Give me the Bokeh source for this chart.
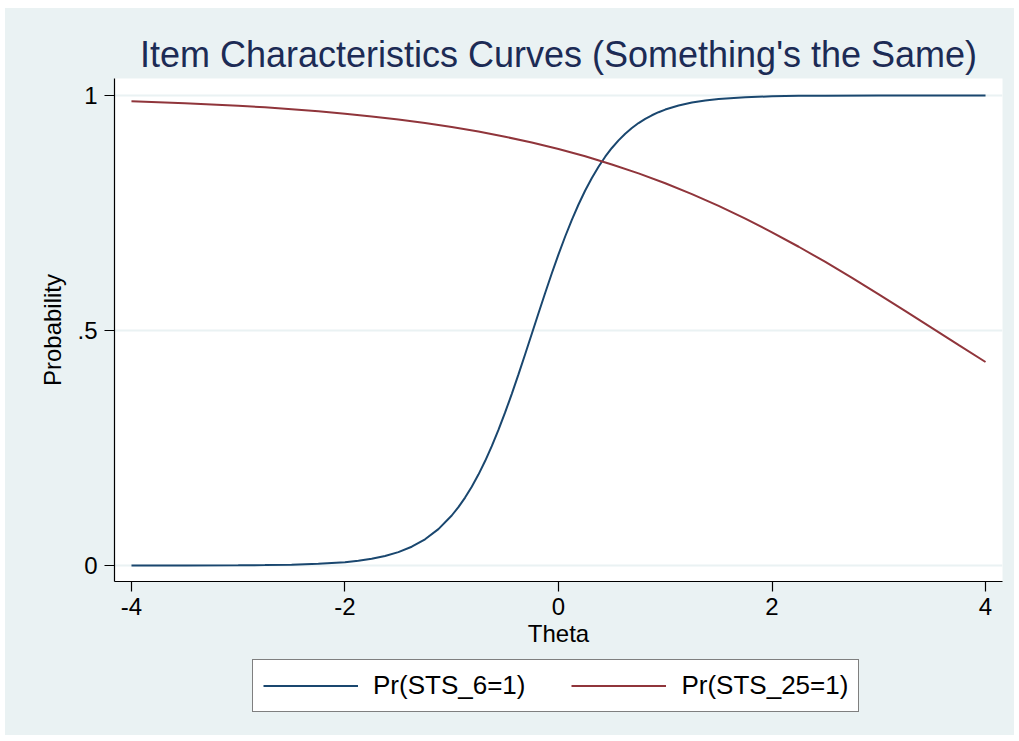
from bokeh.plotting import figure
from bokeh.models import Legend, LegendItem, Range1d, FixedTicker
from bokeh.layouts import column
from bokeh.embed import file_html
from bokeh.resources import INLINE

# ---- data ----
theta_blue = [-4.0, -3.5, -3.0, -2.75, -2.5, -2.25, -2.0, -1.875, -1.75, -1.625,
              -1.5, -1.375, -1.25, -1.125, -1.0, -0.9375, -0.875, -0.8125, -0.75,
              -0.6875, -0.625, -0.5625, -0.5, -0.4375, -0.375, -0.3125, -0.25,
              -0.1875, -0.125, -0.0625, 0.0, 0.0625, 0.125, 0.1875, 0.25, 0.3125,
              0.375, 0.4375, 0.5, 0.5625, 0.625, 0.6875, 0.75, 0.8125, 0.875,
              0.9375, 1.0, 1.125, 1.25, 1.375, 1.5, 1.75, 2.0, 2.25, 2.5, 3.0, 4.0]
p_blue = [0.00003, 0.0001, 0.00044, 0.00089, 0.00178, 0.00358, 0.00719, 0.01017, 0.01437, 0.02028,
          0.02853, 0.0400, 0.0558, 0.0774, 0.1064, 0.1242, 0.1445, 0.1676, 0.1934,
          0.2222, 0.2539, 0.2884, 0.3256, 0.3652, 0.4066, 0.4494, 0.493,
          0.5367, 0.5798, 0.6218, 0.662, 0.6999, 0.7354, 0.768, 0.7977, 0.8245,
          0.8484, 0.8696, 0.8882, 0.9044, 0.9185, 0.9307, 0.9412, 0.9501, 0.9578,
          0.9643, 0.9699, 0.9786, 0.9848, 0.9892, 0.9924, 0.9962, 0.9981, 0.9991, 0.9995, 0.9999, 1.0]

theta_red = [-4.0, -3.75, -3.5, -3.25, -3.0, -2.75, -2.5, -2.25, -2.0, -1.75, -1.5,
             -1.25, -1.0, -0.75, -0.5, -0.25, 0.0, 0.25, 0.5, 0.75, 1.0, 1.25, 1.5,
             1.75, 2.0, 2.25, 2.5, 2.75, 3.0, 3.25, 3.5, 3.75, 4.0]
p_red = [0.9875, 0.9856, 0.9834, 0.9808, 0.9779, 0.9746, 0.9707, 0.9663, 0.9612, 0.9554, 0.9488,
         0.9413, 0.9328, 0.9231, 0.9121, 0.8998, 0.8860, 0.8705, 0.8532, 0.8341, 0.8131, 0.7900, 0.7650,
         0.7379, 0.7089, 0.6781, 0.6457, 0.6118, 0.5769, 0.5412, 0.5050, 0.4688, 0.4329]

x_ticks = [-4, -2, 0, 2, 4]
x_tick_labels = ["-4", "-2", "0", "2", "4"]
y_ticks = [0, 0.5, 1]
y_tick_labels = ["0", ".5", "1"]
title_text = "Item Characteristics Curves (Something's the Same)"
x_label = "Theta"
y_label = "Probability"
series_labels = ["Pr(STS_6=1)", "Pr(STS_25=1)"]
series_colors = ["#1A476F", "#90353B"]

FONT = "Liberation Sans"
BG = "#EAF2F3"

p = figure(frame_width=888, frame_height=503,
           x_range=Range1d(-4.159, 4.159), y_range=Range1d(-0.034, 1.036),
           output_backend="svg", toolbar_location=None,
           min_border_left=109, min_border_right=12,
           min_border_top=70, min_border_bottom=74,
           border_fill_color=BG, background_fill_color="white",
           outline_line_color=None)

p.title.text = title_text
p.title.align = "center"
p.title.text_font = FONT
p.title.text_font_size = "36px"
p.title.text_font_style = "normal"
p.title.text_color = "#1C2B55"
p.title.standoff = 8

r_blue = p.line(theta_blue, p_blue, line_color=series_colors[0], line_width=2)
r_red = p.line(theta_red, p_red, line_color=series_colors[1], line_width=2)

p.xgrid.visible = False
p.ygrid.grid_line_color = BG
p.ygrid.grid_line_width = 2
p.ygrid.ticker = FixedTicker(ticks=y_ticks)

for ax in (p.xaxis[0], p.yaxis[0]):
    ax.axis_line_color = "black"
    ax.axis_line_width = 1.2
    ax.major_tick_line_color = "black"
    ax.major_tick_line_width = 1.2
    ax.major_tick_out = 10
    ax.major_tick_in = 0
    ax.minor_tick_line_color = None
    ax.major_label_text_font = FONT
    ax.major_label_text_font_size = "24px"
    ax.major_label_text_color = "black"
    ax.axis_label_text_font = FONT
    ax.axis_label_text_font_size = "24px"
    ax.axis_label_text_font_style = "normal"
    ax.axis_label_text_color = "black"

p.xaxis.ticker = FixedTicker(ticks=x_ticks)
p.xaxis.major_label_overrides = {t: l for t, l in zip(x_ticks, x_tick_labels)}
p.xaxis.axis_label = x_label
p.xaxis.major_label_standoff = 6
p.xaxis.axis_label_standoff = 2
p.yaxis.ticker = FixedTicker(ticks=y_ticks)
p.yaxis.major_label_overrides = {t: l for t, l in zip(y_ticks, y_tick_labels)}
p.yaxis.axis_label = y_label
p.yaxis.major_label_orientation = "horizontal"
p.yaxis.major_label_standoff = 7
p.yaxis.axis_label_standoff = 8

# ---- legend strip below the chart: same series, drawn outside its view, only the key shows ----
lg = figure(frame_width=888, frame_height=80, x_range=Range1d(100, 101), y_range=Range1d(100, 101),
            output_backend="svg", toolbar_location=None,
            x_axis_type=None, y_axis_type=None,
            min_border_left=109, min_border_right=12, min_border_top=0, min_border_bottom=0,
            border_fill_color=BG, background_fill_color=None, outline_line_color=None)
lg.xgrid.visible = False
lg.ygrid.visible = False
k_blue = lg.line(theta_blue, p_blue, line_color=series_colors[0], line_width=2)
k_red = lg.line(theta_red, p_red, line_color=series_colors[1], line_width=2)
legend = Legend(items=[LegendItem(label=series_labels[0], renderers=[k_blue]),
                       LegendItem(label=series_labels[1], renderers=[k_red])],
                orientation="horizontal", location=(138, 23),
                glyph_width=95, glyph_height=27, label_standoff=15, spacing=46,
                padding=10, margin=0,
                label_text_font=FONT, label_text_font_size="26px",
                label_text_color="black",
                border_line_color="black", border_line_width=1.5,
                background_fill_color="white", background_fill_alpha=1.0)
lg.add_layout(legend, "center")

page = column(p, lg, spacing=0)
page.margin = (8, 5, 6, 5)
page.styles = {"background-color": BG}

open("out.html", "w").write(file_html(page, INLINE))
